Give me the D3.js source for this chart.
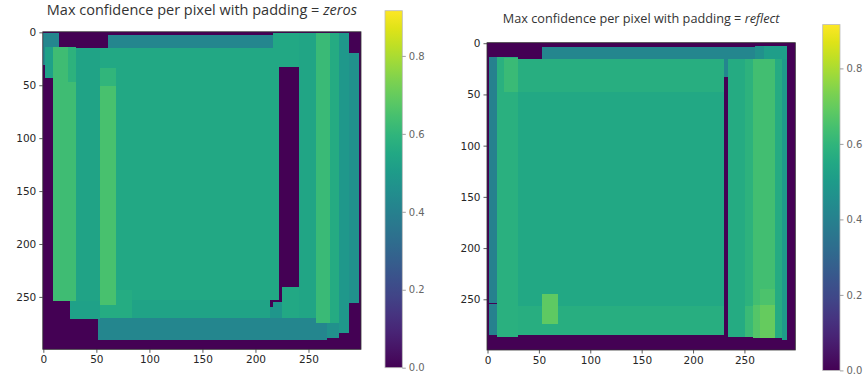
<!DOCTYPE html>
<html>
<head>
<meta charset="utf-8">
<script src="https://cdn.jsdelivr.net/npm/d3@7"></script>
<style>
  body { margin: 0; background: #fff; }
  svg { display: block; }
  .tick text { font-family: "DejaVu Sans", sans-serif; }
</style>
</head>
<body>
<div id="chart"></div>
<script>
// boxes: [x0, y0, x1, y1, confidence] in pixel units of the 300x300 image, drawn in order
const zerosBoxes = [
  [0, 1, 15.5, 14, 0.42],
  [0, 14, 2, 31, 0.42],
  [2, 14, 10, 44, 0.52],
  [61, 3, 217.5, 15.6, 0.42],
  [23.6, 15.6, 222.8, 253.5, 0.55],
  [217.5, 1, 241.7, 33, 0.55],
  [52.4, 244, 84, 276, 0.565],
  [84, 253.5, 214, 271, 0.53],
  [217.5, 255, 225.3, 272, 0.48],
  [214, 260.4, 225.3, 272, 0.48],
  [225.3, 241, 241.7, 271, 0.55],
  [52.4, 270.8, 268, 291.3, 0.42],
  [268, 270.8, 279, 289, 0.46],
  [25.7, 254, 53.5, 271.5, 0.52],
  [31.5, 15.6, 53.5, 254, 0.53],
  [10, 14.5, 31.5, 254, 0.63],
  [24, 14.5, 31.5, 47, 0.59],
  [54, 34.6, 68.8, 51.4, 0.60],
  [54, 51.4, 68.8, 258, 0.65],
  [241.7, 1, 257.7, 270.6, 0.54],
  [257.7, 1, 271, 275, 0.62],
  [271, 1, 279, 275, 0.56],
  [279, 1, 288.8, 285, 0.49],
  [288.8, 20, 298.2, 256.6, 0.46]
];

const reflectBoxes = [
  [53.6, 3.9, 261, 16.2, 0.42],
  [261, 3.2, 269.9, 16.2, 0.46],
  [269.9, 3.2, 291.9, 34.8, 0.51],
  [1.6, 13.7, 9.7, 285.6, 0.40],
  [0, 254.2, 9.7, 255.4, 0],
  [9.7, 16.2, 230.8, 285.6, 0.55],
  [9.7, 16.2, 230.8, 47.9, 0.575],
  [9.7, 257.3, 230.8, 285.6, 0.575],
  [9.7, 14.3, 30.3, 287.3, 0.58],
  [17, 15.2, 30.3, 47.9, 0.62],
  [53.9, 244.9, 68.9, 274.9, 0.69],
  [230.8, 16.2, 234.1, 33, 0.42],
  [234.1, 16.2, 251.3, 287.3, 0.56],
  [251.3, 16.2, 258.8, 287.3, 0.59],
  [251.3, 257.3, 258.8, 287.3, 0.62],
  [258.8, 16.2, 279.9, 288, 0.64],
  [266, 240, 279.9, 256.3, 0.655],
  [258.8, 256.3, 266, 287.9, 0.67],
  [266, 256.3, 279.9, 287.9, 0.70],
  [279.9, 16.2, 287, 288, 0.56],
  [287, 16.2, 291.9, 289.9, 0.50]
];

const axisTicks = [0, 50, 100, 150, 200, 250];
const cbarTicks = [0, 0.2, 0.4, 0.6, 0.8];
const vmax = 0.916;

const color = d3.scaleSequential(d3.interpolateViridis).domain([0, vmax]);

const svg = d3.select('#chart')
  .append('svg')
  .attr('width', 864)
  .attr('height', 379);

const defs = svg.append('defs');
const grad = defs.append('linearGradient')
  .attr('id', 'viridis')
  .attr('x1', 0).attr('y1', 1).attr('x2', 0).attr('y2', 0);
d3.range(0, 1.0001, 0.05).forEach(t => {
  grad.append('stop')
    .attr('offset', t)
    .attr('stop-color', color(t * vmax));
});

const panels = [
  { boxes: zerosBoxes, pad: 'zeros', left: 42.8, right: 361, top: 31.8, bottom: 349.3,
    titleY: 15, titleSize: 14.5, cb: { x: 385, w: 17.3, top: 10.7, bottom: 367.7 } },
  { boxes: reflectBoxes, pad: 'reflect', left: 487, right: 795.3, top: 42.7, bottom: 350,
    titleY: 22.5, titleSize: 12.7, cb: { x: 822.7, w: 17.3, top: 24.6, bottom: 370.4 } }
];

panels.forEach((p, i) => {
  const x = d3.scaleLinear().domain([-0.5, 299.5]).range([p.left, p.right]);
  const y = d3.scaleLinear().domain([-0.5, 299.5]).range([p.top, p.bottom]);

  const g = svg.append('g');

  // background = confidence 0
  g.append('rect')
    .attr('x', x(-0.5))
    .attr('y', y(-0.5))
    .attr('width', x(299.5) - x(-0.5))
    .attr('height', y(299.5) - y(-0.5))
    .attr('fill', color(0));

  g.selectAll('.box')
    .data(p.boxes)
    .enter()
    .append('rect')
    .attr('class', 'box')
    .attr('x', d => x(d[0] - 0.5))
    .attr('y', d => y(d[1] - 0.5))
    .attr('width', d => x(d[2]) - x(d[0]))
    .attr('height', d => y(d[3]) - y(d[1]))
    .attr('shape-rendering', 'crispEdges')
    .attr('fill', d => color(d[4]));

  // frame
  g.append('rect')
    .attr('x', x(-0.5))
    .attr('y', y(-0.5))
    .attr('width', x(299.5) - x(-0.5))
    .attr('height', y(299.5) - y(-0.5))
    .attr('fill', 'none')
    .attr('stroke', '#333')
    .attr('stroke-width', 0.8);

  const xAxis = g.append('g')
    .attr('transform', `translate(0,${p.bottom})`)
    .call(d3.axisBottom(x).tickValues(axisTicks).tickSize(3.5).tickSizeOuter(0).tickPadding(3));
  const yAxis = g.append('g')
    .attr('transform', `translate(${p.left},0)`)
    .call(d3.axisLeft(y).tickValues(axisTicks).tickSize(3.5).tickSizeOuter(0).tickPadding(3));
  [xAxis, yAxis].forEach(a => {
    a.select('.domain').remove();
    a.selectAll('.tick line').attr('stroke', '#333').attr('stroke-width', 0.8);
    a.selectAll('.tick text').attr('fill', '#262626').style('font-size', '10.5px');
  });

  // title
  const title = g.append('text')
    .attr('x', (p.left + p.right) / 2)
    .attr('y', p.titleY)
    .attr('text-anchor', 'middle')
    .attr('fill', '#333')
    .style('font-family', '"Open Sans", sans-serif')
    .style('font-size', p.titleSize + 'px');
  title.append('tspan').text('Max confidence per pixel with padding = ');
  title.append('tspan').style('font-style', 'italic').text(p.pad);

  // colorbar
  const cy = d3.scaleLinear().domain([0, vmax]).range([p.cb.bottom, p.cb.top]);
  g.append('rect')
    .attr('x', p.cb.x)
    .attr('y', p.cb.top)
    .attr('width', p.cb.w)
    .attr('height', p.cb.bottom - p.cb.top)
    .attr('fill', 'url(#viridis)')
    .attr('stroke', '#bbb')
    .attr('stroke-width', 0.8);
  const cAxis = g.append('g')
    .attr('transform', `translate(${p.cb.x + p.cb.w},0)`)
    .call(d3.axisRight(cy).tickValues(cbarTicks).tickFormat(d3.format('.1f')).tickSize(3.5).tickPadding(3));
  cAxis.select('.domain').remove();
  cAxis.selectAll('.tick line').attr('stroke', '#888').attr('stroke-width', 0.8);
  cAxis.selectAll('.tick text').attr('fill', '#666').style('font-size', '10px');
});
</script>
</body>
</html>
